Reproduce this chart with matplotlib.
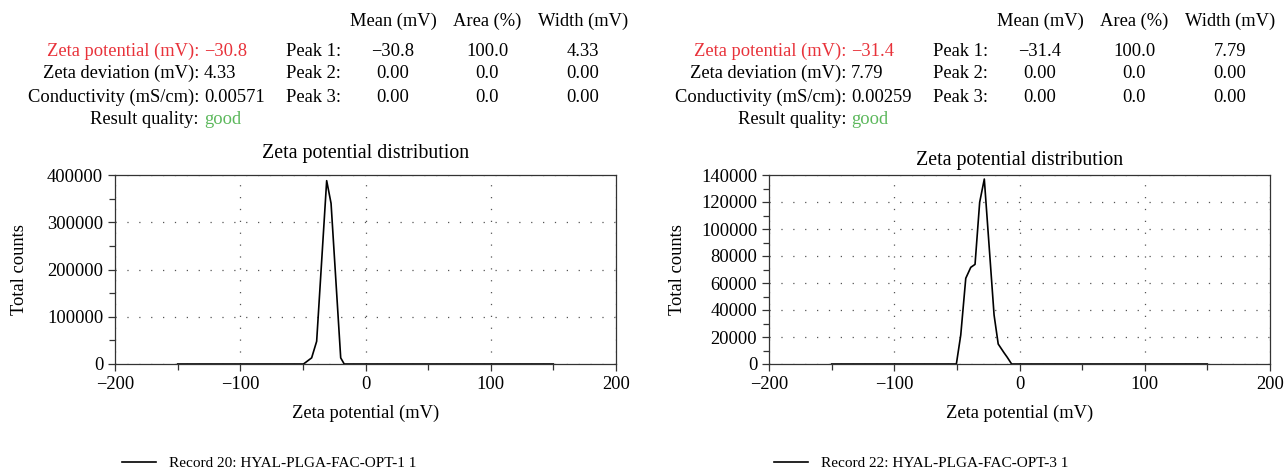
import numpy as np
import matplotlib
matplotlib.use("Agg")
import matplotlib.pyplot as plt

# data
x_left = [-150, -49.5, -43, -39, -31, -27.5, -19.8, -17, 150]
y_left = [0, 0, 13000, 48000, 388000, 340000, 13000, 0, 0]
x_right = [-150, -50.4, -46.9, -42.9, -38.9, -35.5, -31.8, -28.1, -20.3, -17, -12.4, -9.8, -6.3, 150]
y_right = [0, 0, 21500, 63500, 71600, 73800, 119800, 137000, 36300, 14800, 8400, 5000, 0, 0]

labels = ["Record 20: HYAL-PLGA-FAC-OPT-1 1", "Record 22: HYAL-PLGA-FAC-OPT-3 1"]
zeta = ["\u221230.8", "\u221231.4"]
deviation = ["4.33", "7.79"]
conductivity = ["0.00571", "0.00259"]
peak_mean = [["\u221230.8", "0.00", "0.00"], ["\u221231.4", "0.00", "0.00"]]
peak_area = [["100.0", "0.0", "0.0"], ["100.0", "0.0", "0.0"]]
peak_width = [["4.33", "0.00", "0.00"], ["7.79", "0.00", "0.00"]]

plt.rcParams['font.family'] = ['Liberation Serif', 'DejaVu Serif']

W, H = 1286, 470
fig = plt.figure(figsize=(W / 100, H / 100), dpi=100)

def fx(px):
    return px / W

def fy(py):
    return 1 - py / H

red = "#e8323a"
green = "#5cb85c"
fs = 13.3

panels = [
    dict(ax_l=115, ax_r=616, dx=0, x=x_left, y=y_left, ymax=400000, major=100000,
         minor=50000, title_y=154, ylab_x=20, leg_x=122),
    dict(ax_l=769, ax_r=1270, dx=647, x=x_right, y=y_right, ymax=140000, major=20000,
         minor=10000, title_y=160, ylab_x=678, leg_x=774),
]

for i, p in enumerate(panels):
    dx = p["dx"]
    # header
    for cx, t in [(393, "Mean (mV)"), (487, "Area (%)"), (583, "Width (mV)")]:
        fig.text(fx(cx + dx), fy(21), t, ha="center", va="center", fontsize=fs)
    rows = [("Zeta potential (mV):", zeta[i], red, red),
            ("Zeta deviation (mV):", deviation[i], "black", "black"),
            ("Conductivity (mS/cm):", conductivity[i], "black", "black"),
            ("Result quality:", "good", "black", green)]
    row_y = [51, 73, 97, 120]
    for (lab, val, c1, c2), yy in zip(rows, row_y):
        fig.text(fx(199 + dx), fy(yy), lab, ha="right", va="center", fontsize=fs, color=c1)
        fig.text(fx(204 + dx), fy(yy), val, ha="left", va="center", fontsize=fs, color=c2)
    for k in range(3):
        yy = row_y[k]
        fig.text(fx(341 + dx), fy(yy), "Peak %d:" % (k + 1), ha="right", va="center", fontsize=fs)
        fig.text(fx(393 + dx), fy(yy), peak_mean[i][k], ha="center", va="center", fontsize=fs)
        fig.text(fx(487 + dx), fy(yy), peak_area[i][k], ha="center", va="center", fontsize=fs)
        fig.text(fx(583 + dx), fy(yy), peak_width[i][k], ha="center", va="center", fontsize=fs)

    ax = fig.add_axes([fx(p["ax_l"]), fy(364), fx(p["ax_r"] - p["ax_l"]), (364 - 175) / H])
    ax.plot(p["x"], p["y"], color="black", lw=1.2, label=labels[i])
    ax.set_xlim(-200, 200)
    ax.set_ylim(0, p["ymax"])
    ax.set_xticks(np.arange(-200, 201, 100))
    ax.set_xticks(np.arange(-150, 151, 100), minor=True)
    ax.set_yticks(np.arange(0, p["ymax"] + 1, p["major"]))
    ax.set_yticks(np.arange(0, p["ymax"] + 1, p["minor"]), minor=True)
    ax.set_xticklabels([str(v).replace("-", "\u2212") for v in range(-200, 201, 100)])
    ax.tick_params(which="major", direction="out", length=5, width=0.9, colors="#333333",
                   labelcolor="black", labelsize=fs)
    ax.tick_params(which="minor", direction="out", length=4, width=0.9, colors="#333333")
    ax.grid(True, which="major", color="#555555", linestyle=(0, (1, 8.5)), lw=0.9)
    for s in ax.spines.values():
        s.set_color("#333333")
        s.set_linewidth(0.9)
    fig.text(fx((p["ax_l"] + p["ax_r"]) / 2), fy(p["title_y"]), "Zeta potential distribution",
             ha="center", va="center", fontsize=fs + 1)
    fig.text(fx(p["ylab_x"]), fy(270), "Total counts", rotation=90, ha="center", va="center",
             fontsize=fs)
    fig.text(fx((p["ax_l"] + p["ax_r"]) / 2), fy(413), "Zeta potential (mV)",
             ha="center", va="center", fontsize=fs)
    ax.legend(loc="center left", bbox_to_anchor=(fx(p["leg_x"]), fy(463)),
              bbox_transform=fig.transFigure, frameon=False, fontsize=11,
              handlelength=2.2, handletextpad=0.9, borderpad=0, borderaxespad=0)

fig.savefig("out.png", dpi=100)
